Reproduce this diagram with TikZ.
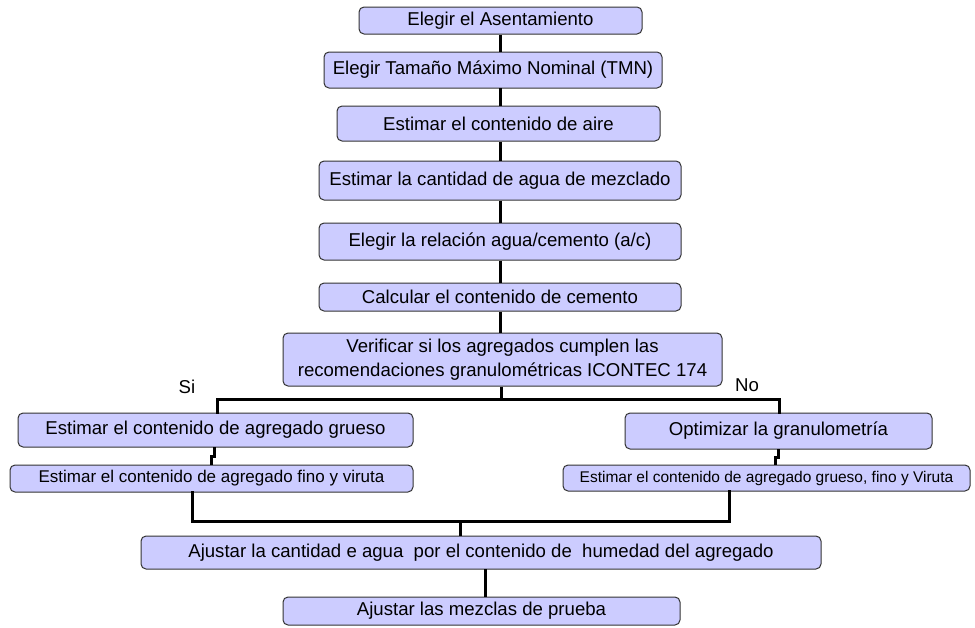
\documentclass[tikz,border=0pt]{standalone}
\usepackage{fontspec}
\setmainfont{Liberation Sans}
\definecolor{boxfill}{HTML}{CCCCFF}
\definecolor{boxline}{HTML}{333333}
\begin{document}
\begin{tikzpicture}[x=1pt,y=-1pt,
  box/.style={draw=boxline, line width=1pt, fill=boxfill, rounded corners=5pt,
    inner sep=0pt, align=center, font=\fontsize{18.6}{21}\selectfont},
  conn/.style={line width=3pt, black},
  lbl/.style={font=\fontsize{18.6}{21}\selectfont, inner sep=0pt}]
\useasboundingbox (0,0) rectangle (975,627);
\node[box, minimum width=283pt, minimum height=27pt] (b1) at (500.5,20.5) {Elegir el Asentamiento};
\node[box, minimum width=338pt, minimum height=36pt] (b2) at (493,70) {Elegir Tamaño Máximo Nominal (TMN)};
\node[box, minimum width=323pt, minimum height=35pt] (b3) at (498.5,123.5) {Estimar el contenido de aire};
\node[box, minimum width=362pt, minimum height=39pt] (b4) at (500,180.5) {Estimar la cantidad de agua de mezclado};
\node[box, minimum width=362pt, minimum height=37pt] (b5) at (500,241.5) {Elegir la relación agua/cemento (a/c)};
\node[box, minimum width=362pt, minimum height=28pt] (b6) at (500,297) {Calcular el contenido de cemento};
\node[box, minimum width=439pt, minimum height=53pt, font=\fontsize{18.6}{23.5}\selectfont] (b7) at (502.5,359.5) {Verificar si los agregados cumplen las\\recomendaciones granulométricas ICONTEC 174};
\node[box, minimum width=395pt, minimum height=34pt] (b8) at (215.5,430) {Estimar el contenido de agregado grueso};
\node[box, minimum width=403pt, minimum height=27pt, font=\fontsize{17}{20}\selectfont] (b9) at (211.5,478.5) {Estimar el contenido de agregado fino y viruta};
\node[box, minimum width=307pt, minimum height=36pt] (b10) at (778.5,431) {Optimizar la granulometría};
\node[box, minimum width=407pt, minimum height=26pt, font=\fontsize{15.5}{18}\selectfont] (b11) at (766.5,478) {Estimar el contenido de agregado grueso, fino y Viruta};
\node[box, minimum width=680pt, minimum height=33pt] (b12) at (481,552.5) {Ajustar la cantidad e agua\ \ por el contenido de\ \ humedad del agregado};
\node[box, minimum width=397pt, minimum height=28pt] (b13) at (481.5,611) {Ajustar las mezclas de prueba};
\node[lbl] (si) at (187,387) {Si};
\node[lbl] (no) at (747,385) {No};
% connectors
\draw[conn] (b1.south) -- (b1.south |- b2.north);
\draw[conn] (500,88) -- (500,106);
\draw[conn] (b3.south -| b4.north) -- (b4.north);
\draw[conn] (b4.south) -- (b5.north);
\draw[conn] (b5.south) -- (b6.north);
\draw[conn] (b6.south) -- (b6.south |- b7.north);
\coordinate (split) at (501,399);
\coordinate (hl) at (217,399);
\coordinate (hr) at (779,399);
\draw[conn] (b7.south -| split) -- (split);
\draw[conn, line cap=rect] (hl |- b8.north) -- (hl) -- (hr) -- (hr |- b10.north);
\draw[conn] (214,447) -- (214,456) -- (211,456) -- (211,465);
\draw[conn] (778,449) -- (778,457) -- (775,457) -- (775,465);
\coordinate (jl) at (192,521);
\coordinate (jr) at (729,521);
\coordinate (jm) at (460,521);
\draw[conn, line cap=rect] (jl |- b9.south) -- (jl) -- (jr) -- (jr |- b11.south);
\draw[conn] (jm) -- (jm |- b12.north);
\draw[conn] (485,569) -- (485,597);
\end{tikzpicture}
\end{document}
